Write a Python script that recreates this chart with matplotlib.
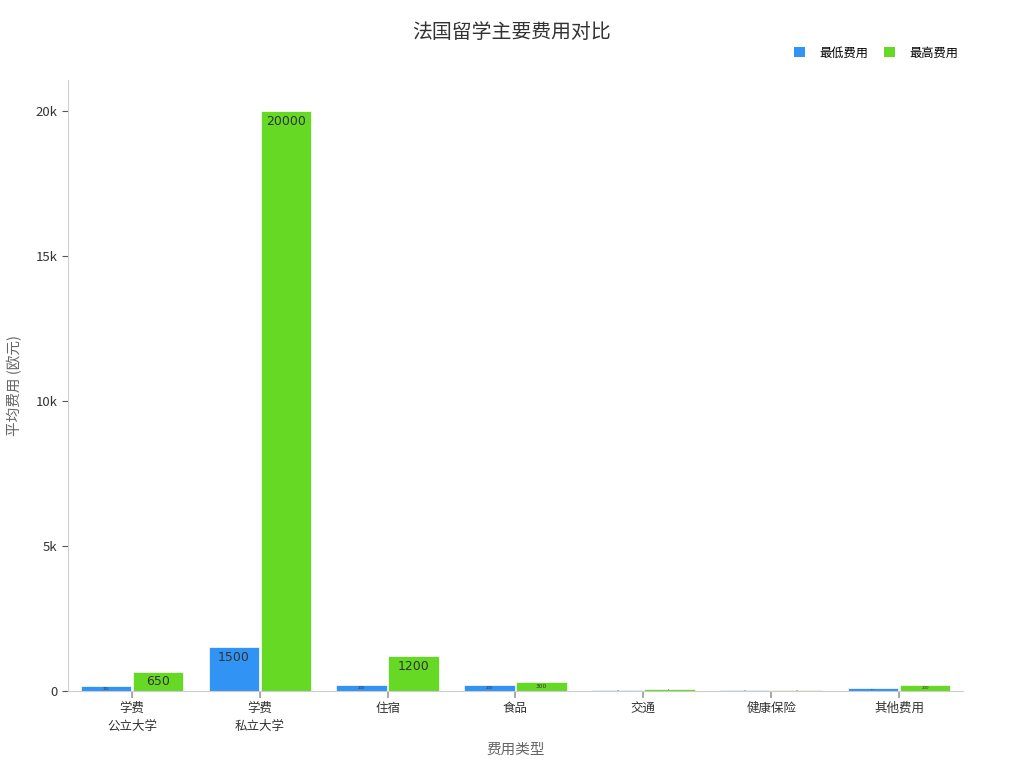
import matplotlib
matplotlib.use("Agg")
import matplotlib.pyplot as plt
from matplotlib.ticker import FuncFormatter, MultipleLocator
from matplotlib.patches import Patch
import numpy as np

plt.rcParams['font.family'] = ['Noto Sans CJK SC', 'DejaVu Sans']

categories = ["学费\n公立大学", "学费\n私立大学", "住宿", "食品", "交通", "健康保险", "其他费用"]
min_cost = [170, 1500, 200, 200, 25, 20, 100]
max_cost = [650, 20000, 1200, 300, 75, 50, 200]
series_names = ["最低费用", "最高费用"]
colors = ["#3194f4", "#66d924"]

fig = plt.figure(figsize=(10.24, 7.68), dpi=100)
ax = fig.add_axes([0.0664, 0.1003, 0.874, 0.7955])

x = np.arange(len(categories))
w = 0.395
gap = 0.006
bars_min = ax.bar(x - w / 2 - gap, min_cost, width=w, color=colors[0], edgecolor="white", linewidth=0.5)
bars_max = ax.bar(x + w / 2 + gap, max_cost, width=w, color=colors[1], edgecolor="white", linewidth=0.5)

ax.set_xlim(-0.5, len(categories) - 0.5)
ax.set_ylim(0, 21050)

px_per_unit = 581 / 20000.0
for bars in (bars_min, bars_max):
    for b in bars:
        v = b.get_height()
        h_px = v * px_per_unit
        fs = min(9.0, h_px * 0.5)
        if fs < 1.0:
            fs = 1.0
        off_px = min(h_px / 2.0, 10.5)
        ax.annotate(f"{int(v)}", xy=(b.get_x() + b.get_width() / 2, v),
                    xytext=(0, -off_px * 0.72), textcoords="offset points",
                    ha="center", va="center", fontsize=fs, color="#333333",
                    family=['DejaVu Sans'])

ax.yaxis.set_major_locator(MultipleLocator(5000))
ax.yaxis.set_major_formatter(FuncFormatter(lambda v, p: "0" if v == 0 else f"{int(v/1000)}k"))
ax.set_xticks(x)
ax.set_xticklabels(categories, fontsize=9, color="#333333", linespacing=1.5)
ax.tick_params(axis="y", labelsize=9.5, labelcolor="#333333", length=4, color="#555555", width=0.8)
ax.tick_params(axis="x", length=5, color="#999999", width=1.2, pad=3)

for s in ["top", "right"]:
    ax.spines[s].set_visible(False)
ax.spines["left"].set_color("#d0d0d0")
ax.spines["bottom"].set_color("#cccccc")

ax.set_xlabel("费用类型", fontsize=10.5, color="#666666", labelpad=7)
ax.set_ylabel("平均费用 (欧元)", fontsize=10.5, color="#666666", labelpad=10)

fig.text(0.5, 0.958, "法国留学主要费用对比", ha="center", va="center", fontsize=14.3, color="#333333")

handles = [Patch(facecolor=c, edgecolor="none") for c in colors]
fig.legend(handles, series_names, loc="center right", bbox_to_anchor=(0.947, 0.931), ncol=2,
           frameon=False, fontsize=8.8, handlelength=0.9, handleheight=0.9, columnspacing=1.3,
           handletextpad=1.2)

fig.savefig("out.png", dpi=100)
